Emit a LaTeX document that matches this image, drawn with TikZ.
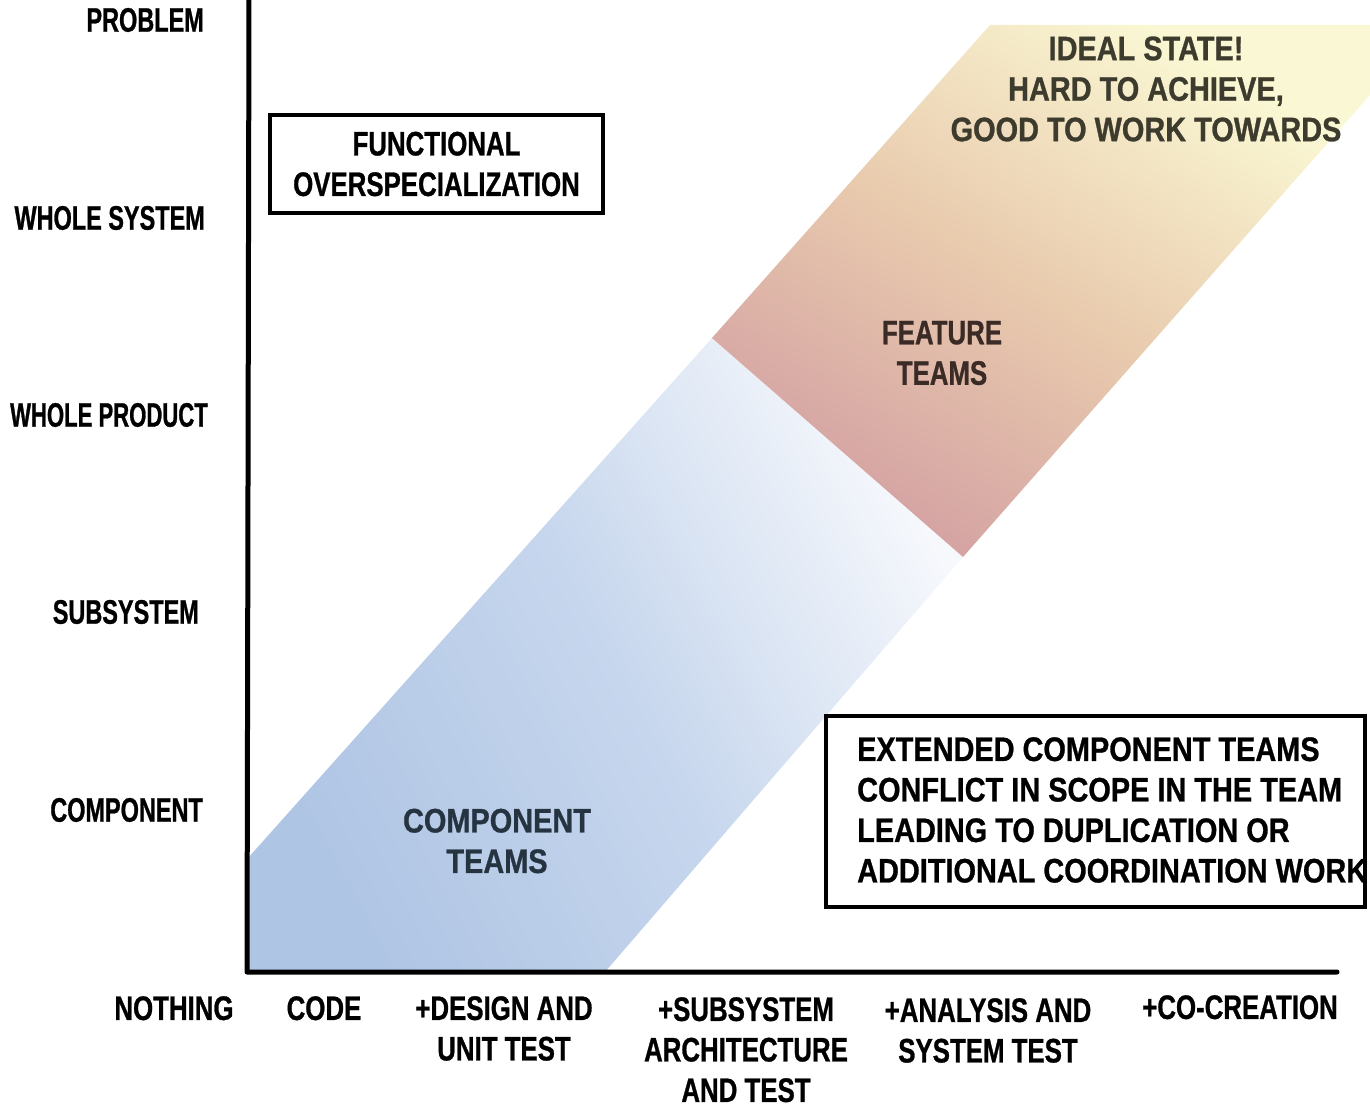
\documentclass[tikz,border=0pt]{standalone}
\usepackage{fontspec}
\setmainfont{Liberation Sans}
\newfontfamily\fnarrow{Liberation Sans}[FakeStretch=0.69, FakeBold=0.8]
\newfontfamily\fnarrower{Liberation Sans}[FakeStretch=0.65, FakeBold=0.8]
\newfontfamily\fmid{Liberation Sans}[FakeStretch=0.76, FakeBold=0.8]
\newfontfamily\fwide{Liberation Sans}[FakeStretch=0.85, FakeBold=0.8]
\definecolor{bluedark}{HTML}{AFC5E4}
\definecolor{bluemid}{HTML}{C6D6ED}
\definecolor{bluelight}{HTML}{F6F8FC}
\definecolor{featpink}{HTML}{D3A0A2}
\definecolor{featmid}{HTML}{E9CBAE}
\definecolor{featyellow}{HTML}{FAF8D4}
\definecolor{comptext}{HTML}{263441}
\definecolor{feattext}{HTML}{3B2B26}
\definecolor{idealtext}{HTML}{3D3B2E}
\begin{document}
\begin{tikzpicture}[x=1pt,y=-1pt,
  ylbl/.style={font=\fnarrow\bfseries\fontsize{34}{40.5}\selectfont, inner sep=0pt, anchor=east},
  xlbl/.style={font=\fmid\bfseries\fontsize{34}{40.5}\selectfont, inner sep=0pt, align=center, anchor=north},
  midtxt/.style={font=\fmid\bfseries\fontsize{34}{40.5}\selectfont, inner sep=0pt, align=center},
  widetxt/.style={font=\fwide\bfseries\fontsize{34}{40.5}\selectfont, inner sep=0pt, align=center},
  axisline/.style={line width=5pt, line cap=round, line join=round},
  boxline/.style={draw, line width=4pt},
]
\useasboundingbox (0,0) rectangle (1370,1107);

% band corners
\coordinate (bl1) at (248,858);
\coordinate (mid1) at (712,338);
\coordinate (mid2) at (963,557);
\coordinate (br1) at (605,972);
\coordinate (o) at (247,972);
\coordinate (ft1) at (990,25);
\coordinate (ft2) at (1370,25);
\coordinate (ft3) at (1370,95);
\coordinate (ytop) at (249,-3);
\coordinate (xend) at (1337,972);

% component band
\shade[top color=bluelight, bottom color=bluedark, middle color=bluemid, shading angle=-62]
  (bl1) -- (mid1) -- (mid2) -- (br1) -- (o) -- cycle;
% feature band
\shade[top color=featyellow, bottom color=featpink, middle color=featmid, shading angle=-32]
  (mid1) -- (ft1) -- (ft2) -- (ft3) -- (mid2) -- cycle;

% axes
\draw[axisline] (ytop) -- (o) -- (xend);

% y labels
\node[ylbl] (problem) at (204,20) {PROBLEM};
\node[ylbl] (wsys) at (205,218) {WHOLE SYSTEM};
\node[ylbl, font=\fnarrower\bfseries\fontsize{34}{40.5}\selectfont] (wprod) at (208,415) {WHOLE PRODUCT};
\node[ylbl] (subsys) at (199,612) {SUBSYSTEM};
\node[ylbl] (comp) at (203,810) {COMPONENT};

% x labels
\node[xlbl] (nothing) at (174,996) {NOTHING};
\node[xlbl] (code) at (324,996) {CODE};
\node[xlbl] (design) at (504,996) {+DESIGN AND\\UNIT TEST};
\node[xlbl] (subarch) at (746,997) {+SUBSYSTEM\\ARCHITECTURE\\AND TEST};
\node[xlbl] (analysis) at (988,998) {+ANALYSIS AND\\SYSTEM TEST};
\node[xlbl] (cocre) at (1240,995) {+CO-CREATION};

% boxes
\node[boxline, midtxt, minimum width=333pt, minimum height=98pt] (func) at (436.5,164)
  {FUNCTIONAL\\OVERSPECIALIZATION};
\node[boxline, minimum width=539pt, minimum height=191pt] (ext) at (1095.5,811.5) {};
\node[font=\fwide\bfseries\fontsize{34}{40.5}\selectfont, align=left, inner sep=0pt, anchor=west] (exttext) at (857,810)
  {EXTENDED COMPONENT TEAMS\\CONFLICT IN SCOPE IN THE TEAM\\LEADING TO DUPLICATION OR\\ADDITIONAL COORDINATION WORK};

% band texts
\node[widetxt, text=comptext] (ctext) at (497,841) {COMPONENT\\TEAMS};
\node[midtxt, text=feattext] (ftext) at (942,353) {FEATURE\\TEAMS};
\node[widetxt, text=idealtext] (itext) at (1146,89) {IDEAL STATE!\\HARD TO ACHIEVE,\\GOOD TO WORK TOWARDS};
\end{tikzpicture}
\end{document}
